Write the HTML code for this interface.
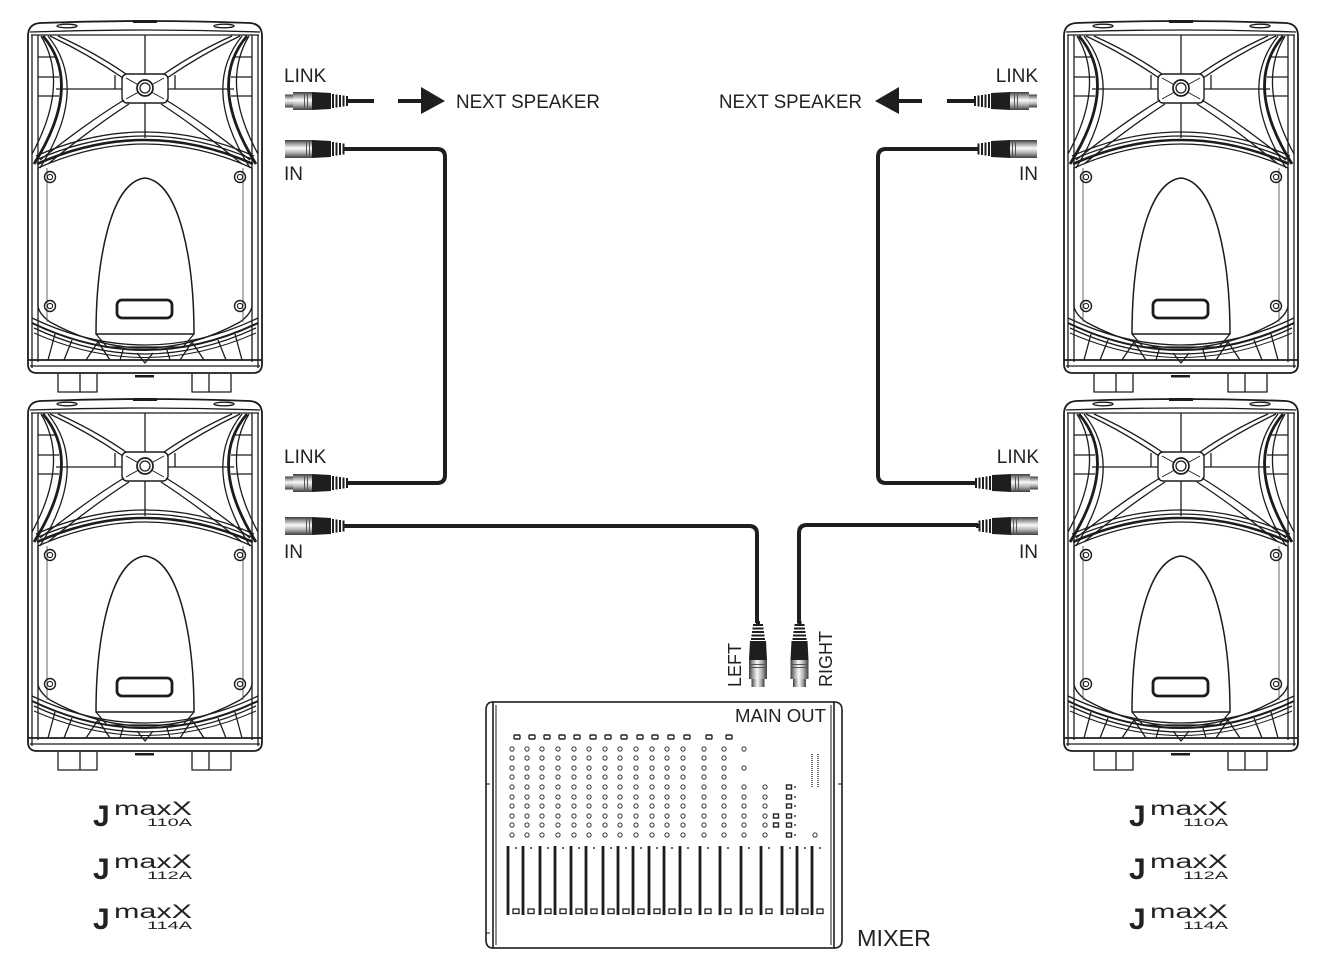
<!DOCTYPE html>
<html><head><meta charset="utf-8"><style>
html,body{margin:0;padding:0;background:#fff;}
svg{display:block;}
text{font-family:"Liberation Sans",Arial,sans-serif;fill:#222;}
</style></head><body>
<svg width="1329" height="974" viewBox="0 0 1329 974" xmlns="http://www.w3.org/2000/svg">
<defs>
<linearGradient id="chrome" x1="0" y1="0" x2="0" y2="1">
<stop offset="0" stop-color="#3a3a3a"/><stop offset="0.2" stop-color="#9a9a9a"/><stop offset="0.45" stop-color="#fafafa"/><stop offset="0.7" stop-color="#b5b5b5"/><stop offset="1" stop-color="#3c3c3c"/>
</linearGradient>

<g id="screw" fill="none" stroke="#1c1c1c"><circle r="5.5" stroke-width="1.4"/><circle r="2.6" stroke-width="1.1"/></g>

<g id="spk" fill="none" stroke="#1c1c1c" stroke-width="1.3" stroke-linejoin="round">
 <path stroke-width="1.8" d="M0,14 Q0,2 12,1 Q117,-3 222,1 Q234,2 234,14 L234,342 Q234,351 225,351 L9,351 Q0,351 0,342 Z"/>
 <path d="M2,10 Q117,6 232,10"/>
 <path d="M3,13 L231,13"/>
 <rect x="105" y="-2" width="24" height="3" fill="#1c1c1c" stroke="none"/>
 <ellipse cx="39" cy="4" rx="10" ry="1.8"/>
 <ellipse cx="196" cy="4" rx="10" ry="1.8"/>
 <path d="M4,13 L4,346 M10,13 L10,340 M224,13 L224,340 M230,13 L230,346"/>
 <!-- fins -->
 <path stroke-width="2.8" d="M15,14 Q56,62 6,142"/>
 <path d="M13,14 Q42,62 4,132"/>
 <path d="M20,14 Q62,66 12,146"/>
 <path stroke-width="2.8" d="M219,14 Q178,62 228,142"/>
 <path d="M221,14 Q192,62 230,132"/>
 <path d="M214,14 Q172,66 222,146"/>
 <path d="M10,35 L27,35 M10,55 L31,55 M10,74 L31,74 M207,35 L224,35 M203,55 L224,55 M203,74 L224,74"/>
 <!-- horn X -->
 <path d="M22,14 Q60,32 95,56 M30,14 Q66,30 98,52"/>
 <path d="M212,14 Q174,32 139,56 M204,14 Q168,30 136,52"/>
 <path d="M96,78 Q60,100 12,138 M101,82 Q64,106 20,142"/>
 <path d="M138,78 Q174,100 222,138 M133,82 Q170,106 214,142"/>
 <rect x="94" y="52" width="46" height="29" rx="5" stroke-width="1.4"/>
 <path d="M98,56 L136,77 M136,56 L98,77" stroke-width="0.9"/>
 <circle cx="117" cy="66" r="8" stroke-width="1.7" fill="#fff"/>
 <circle cx="117" cy="66" r="5"/>
 <path d="M117,13 L117,52 M117,81 L117,116 M28,67 L94,67 M140,67 L206,67 M87,53 L87,67 M147,53 L147,67"/>
 <!-- horn bottom arcs -->
 <path d="M8,134 Q117,86 226,134"/>
 <path d="M8,138 Q117,90 226,138"/>
 <path stroke-width="2.6" d="M9,142 Q117,94 225,142"/>
 <path d="M10,146 Q117,98 224,146"/>
 <!-- lower panel -->
 <path d="M10,146 L10,284 Q11,292 22,300 Q117,352 212,300 Q223,292 224,284 L224,146"/>
 <path d="M19,146 L19,300 M215,146 L215,300" stroke="#555" stroke-width="0.9"/>
 <use href="#screw" x="22" y="155"/>
 <use href="#screw" x="212" y="155"/>
 <use href="#screw" x="22" y="284"/>
 <use href="#screw" x="212" y="284"/>
 <!-- bullet -->
 <path stroke-width="1.5" d="M68,312 C68,240 82,160 117,156 C152,160 166,240 166,312 Z"/>
 <path d="M68,312 L79,325 L155,325 L166,312"/>
 <rect x="89" y="278" width="55" height="18" rx="5" stroke-width="2.8"/>
 <!-- bottom grille -->
 <path d="M4,296 Q117,350 230,296"/>
 <path stroke-width="2" d="M4,301 Q117,355 230,301"/>
 <path d="M6,306 Q117,358 228,306"/>
 <path d="M6,311 Q117,360 228,311" stroke-width="1"/>
 <path d="M20,338 L27,312 M214,338 L207,312 M58,338 L70,320 L82,338 M152,338 L164,320 L176,338 M92,338 L95,328 M142,338 L139,328 M109,331 L117,341 L125,331 M36,338 L44,318 M198,338 L190,318"/>
 <path stroke-width="1.8" d="M0,338 L234,338"/>
 <path stroke-width="1.3" d="M2,344 L232,344"/>
 <!-- feet -->
 <path d="M30,352 L30,370 L69,370 L69,352 M52,352 L52,370 M164,352 L164,370 L203,370 L203,352 M181,352 L181,370"/>
 <rect x="107" y="353" width="19" height="2.5" fill="#1c1c1c" stroke="none"/>
</g>

<g id="xf">
 <rect x="0" y="-6.5" width="9" height="13" fill="url(#chrome)"/>
 <rect x="8" y="-9" width="19" height="18" fill="url(#chrome)"/>
 <rect x="19" y="-9" width="1" height="18" fill="#555"/>
 <rect x="22" y="-9" width="1" height="18" fill="#555"/>
 <path d="M27,-9 L46,-8 L46,8 L27,9 Z" fill="#1e1e1e"/>
 <rect x="47" y="-7" width="2" height="14" fill="#1e1e1e"/>
 <rect x="50.5" y="-6.5" width="2" height="13" fill="#1e1e1e"/>
 <rect x="54" y="-6" width="2" height="12" fill="#1e1e1e"/>
 <rect x="57.5" y="-5.5" width="2" height="11" fill="#1e1e1e"/>
 <rect x="61" y="-5" width="2" height="10" fill="#1e1e1e"/>
 <rect x="63" y="-2" width="3" height="4" fill="#1e1e1e"/>
</g>
<g id="xm">
 <rect x="0" y="-9" width="27" height="18" fill="url(#chrome)"/>
 <rect x="21" y="-9" width="1" height="18" fill="#555"/>
 <rect x="24" y="-9" width="1" height="18" fill="#555"/>
 <path d="M27,-9 L46,-8 L46,8 L27,9 Z" fill="#1e1e1e"/>
 <rect x="47" y="-7" width="2" height="14" fill="#1e1e1e"/>
 <rect x="50.5" y="-6.5" width="2" height="13" fill="#1e1e1e"/>
 <rect x="54" y="-6" width="2" height="12" fill="#1e1e1e"/>
 <rect x="57.5" y="-5.5" width="2" height="11" fill="#1e1e1e"/>
 <rect x="59" y="-2" width="3" height="4" fill="#1e1e1e"/>
</g>

<g id="kc" fill="none" stroke="#333" stroke-width="1">
 <circle cy="749" r="2.1"/><circle cy="758" r="2.1"/><circle cy="768" r="2.1"/><circle cy="777" r="2.1"/><circle cy="787" r="2.1"/>
 <circle cy="797" r="2.1"/><circle cy="806" r="2.1"/><circle cy="816" r="2.1"/><circle cy="825" r="2.1"/><circle cy="835" r="2.1"/>
</g>
<g id="tr"><rect x="-3" y="735" width="6" height="4" rx="1" fill="none" stroke="#222" stroke-width="1.4"/></g>
<g id="fd">
 <line x1="0" y1="846" x2="0" y2="915" stroke="#1c1c1c" stroke-width="2.8"/>
 <rect x="5" y="909" width="6" height="4.5" fill="none" stroke="#222" stroke-width="1.3"/>
 <circle cx="8" cy="848" r="1" fill="#333"/>
</g>
</defs>

<!-- speakers -->
<use href="#spk" transform="translate(28,22)"/>
<use href="#spk" transform="translate(28,400)"/>
<use href="#spk" transform="translate(1064,22)"/>
<use href="#spk" transform="translate(1064,400)"/>

<!-- cables -->
<g fill="none" stroke="#1e1e1e" stroke-width="4">
 <path d="M350,101 L374,101"/>
 <path d="M398,101 L423,101"/>
 <path d="M345,149 L437,149 Q445,149 445,157 L445,475 Q445,483 437,483 L350,483"/>
 <path d="M345,526 L749,526 Q757,526 757,534 L757,623"/>
 <path d="M799,623 L799,533 Q799,525 807,525 L978,525"/>
 <path d="M977,149 L886,149 Q878,149 878,157 L878,475 Q878,483 886,483 L973,483"/>
 <path d="M947,101 L972,101"/>
 <path d="M922,101 L897,101"/>
</g>
<path d="M421,87 L445,101 L421,114 Z" fill="#1e1e1e"/>
<path d="M899,87 L875,101 L899,114 Z" fill="#1e1e1e"/>

<!-- connectors -->
<use href="#xf" transform="translate(285,101)"/>
<use href="#xm" transform="translate(285,149)"/>
<use href="#xf" transform="translate(285,483)"/>
<use href="#xm" transform="translate(285,526)"/>
<use href="#xf" transform="translate(1037,101) scale(-1,1)"/>
<use href="#xm" transform="translate(1037,149) scale(-1,1)"/>
<use href="#xf" transform="translate(1038,483) scale(-1,1)"/>
<use href="#xm" transform="translate(1038,526) scale(-1,1)"/>
<use href="#xf" transform="translate(758,687) rotate(-90)"/>
<use href="#xf" transform="translate(799.5,687) rotate(-90)"/>

<!-- labels -->
<g font-size="19">
 <text x="284" y="82">LINK</text>
 <text x="284" y="180">IN</text>
 <text x="284" y="463">LINK</text>
 <text x="284" y="558">IN</text>
 <text x="456" y="108" textLength="144" lengthAdjust="spacingAndGlyphs">NEXT SPEAKER</text>
 <text x="1038" y="82" text-anchor="end">LINK</text>
 <text x="1038" y="180" text-anchor="end">IN</text>
 <text x="1039" y="463" text-anchor="end">LINK</text>
 <text x="1038" y="558" text-anchor="end">IN</text>
 <text x="719" y="108" textLength="143" lengthAdjust="spacingAndGlyphs">NEXT SPEAKER</text>
 <text transform="translate(741,687) rotate(-90)" font-size="18">LEFT</text>
 <text transform="translate(832,687) rotate(-90)" font-size="18">RIGHT</text>
</g>

<!-- mixer -->
<g fill="none" stroke="#1c1c1c">
 <rect x="493" y="702" width="341" height="246" stroke-width="1.6"/>
 <path d="M493,702 Q486,702 486,710 L486,940 Q486,948 493,948" stroke-width="1.6"/>
 <path d="M834,702 Q842,702 842,710 L842,940 Q842,948 834,948" stroke-width="1.6"/>
 <path d="M496,705 L496,945 M831,705 L831,945" stroke-width="1"/>
 <path d="M486,784 L490,784 M486,933 L490,933 M838,784 L842,784" stroke-width="1"/>
</g>
<text x="735" y="722" font-size="18" textLength="91" lengthAdjust="spacingAndGlyphs">MAIN OUT</text>
<text x="857" y="946" font-size="23" textLength="74" lengthAdjust="spacingAndGlyphs">MIXER</text>

<g>
 <use href="#tr" x="517"/><use href="#tr" x="532"/><use href="#tr" x="547"/><use href="#tr" x="562"/><use href="#tr" x="577"/><use href="#tr" x="593"/><use href="#tr" x="608"/><use href="#tr" x="624"/><use href="#tr" x="640"/><use href="#tr" x="655"/><use href="#tr" x="671"/><use href="#tr" x="687"/><use href="#tr" x="709"/><use href="#tr" x="729"/>
 <use href="#kc" x="512"/><use href="#kc" x="527"/><use href="#kc" x="542"/><use href="#kc" x="558"/><use href="#kc" x="574"/><use href="#kc" x="589"/><use href="#kc" x="605"/><use href="#kc" x="620"/><use href="#kc" x="636"/><use href="#kc" x="652"/><use href="#kc" x="667"/><use href="#kc" x="683"/><use href="#kc" x="704"/><use href="#kc" x="724"/>
</g>
<g fill="none" stroke="#333" stroke-width="1">
 <circle cx="744" cy="749" r="2.1"/><circle cx="744" cy="768" r="2.1"/><circle cx="744" cy="787" r="2.1"/><circle cx="744" cy="797" r="2.1"/><circle cx="744" cy="806" r="2.1"/><circle cx="744" cy="816" r="2.1"/><circle cx="744" cy="825" r="2.1"/><circle cx="744" cy="835" r="2.1"/>
 <circle cx="765" cy="787" r="2.1"/><circle cx="765" cy="797" r="2.1"/><circle cx="765" cy="806" r="2.1"/><circle cx="765" cy="816" r="2.1"/><circle cx="765" cy="825" r="2.1"/><circle cx="765" cy="835" r="2.1"/>
 <circle cx="815" cy="835" r="2.1"/>
</g>
<g fill="none" stroke="#222" stroke-width="1.4">
 <rect x="773.5" y="814" width="5" height="4"/><rect x="773.5" y="823" width="5" height="4"/>
 <rect x="786.5" y="785" width="5" height="4"/><rect x="786.5" y="795" width="5" height="4"/><rect x="786.5" y="804" width="5" height="4"/><rect x="786.5" y="814" width="5" height="4"/><rect x="786.5" y="823" width="5" height="4"/><rect x="786.5" y="833" width="5" height="4"/>
</g>
<g fill="#444">
 <circle cx="795" cy="787" r="1"/><circle cx="795" cy="797" r="1"/><circle cx="795" cy="806" r="1"/><circle cx="795" cy="816" r="1"/><circle cx="795" cy="825" r="1"/><circle cx="795" cy="835" r="1"/>
</g>
<path d="M812,754 L812,787 M818,754 L818,787" stroke="#444" stroke-width="1.6" stroke-dasharray="1,1"/>
<g>
 <use href="#fd" x="508"/><use href="#fd" x="523"/><use href="#fd" x="540"/><use href="#fd" x="555"/><use href="#fd" x="571"/><use href="#fd" x="586"/><use href="#fd" x="603"/><use href="#fd" x="618"/><use href="#fd" x="633"/><use href="#fd" x="649"/><use href="#fd" x="664"/><use href="#fd" x="680"/><use href="#fd" x="700"/><use href="#fd" x="720"/><use href="#fd" x="741"/><use href="#fd" x="761"/><use href="#fd" x="782"/><use href="#fd" x="797"/><use href="#fd" x="812"/>
</g>

<!-- logos -->
<g>
 <text x="93" y="826" font-size="30" font-weight="bold">J</text>
 <text x="114" y="815" font-size="19" textLength="78" lengthAdjust="spacingAndGlyphs">maxX</text>
 <text x="147" y="826" font-size="11" textLength="45" lengthAdjust="spacingAndGlyphs">110A</text>
 <text x="93" y="879" font-size="30" font-weight="bold">J</text>
 <text x="114" y="868" font-size="19" textLength="78" lengthAdjust="spacingAndGlyphs">maxX</text>
 <text x="147" y="879" font-size="11" textLength="45" lengthAdjust="spacingAndGlyphs">112A</text>
 <text x="93" y="929" font-size="30" font-weight="bold">J</text>
 <text x="114" y="918" font-size="19" textLength="78" lengthAdjust="spacingAndGlyphs">maxX</text>
 <text x="147" y="929" font-size="11" textLength="45" lengthAdjust="spacingAndGlyphs">114A</text>

 <text x="1129" y="826" font-size="30" font-weight="bold">J</text>
 <text x="1150" y="815" font-size="19" textLength="78" lengthAdjust="spacingAndGlyphs">maxX</text>
 <text x="1183" y="826" font-size="11" textLength="45" lengthAdjust="spacingAndGlyphs">110A</text>
 <text x="1129" y="879" font-size="30" font-weight="bold">J</text>
 <text x="1150" y="868" font-size="19" textLength="78" lengthAdjust="spacingAndGlyphs">maxX</text>
 <text x="1183" y="879" font-size="11" textLength="45" lengthAdjust="spacingAndGlyphs">112A</text>
 <text x="1129" y="929" font-size="30" font-weight="bold">J</text>
 <text x="1150" y="918" font-size="19" textLength="78" lengthAdjust="spacingAndGlyphs">maxX</text>
 <text x="1183" y="929" font-size="11" textLength="45" lengthAdjust="spacingAndGlyphs">114A</text>
</g>
</svg>
</body></html>
